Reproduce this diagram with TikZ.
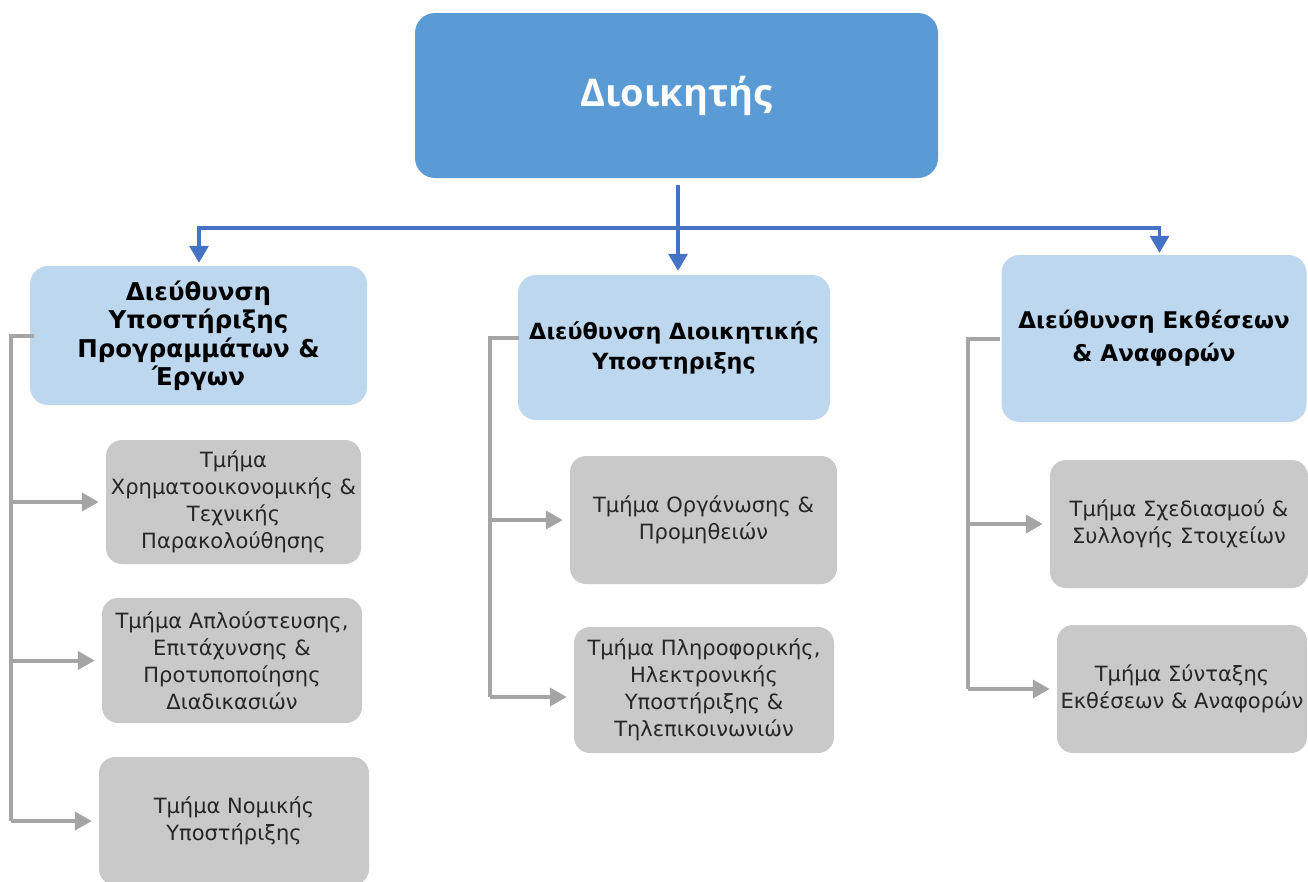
\documentclass[tikz,border=0pt]{standalone}
\usepackage{fontspec}
\setmainfont{DejaVu Sans}
\newfontfamily\titlefont{Open Sans}
\usetikzlibrary{arrows.meta,calc}
\definecolor{topblue}{HTML}{5B9BD5}
\definecolor{lightblue}{HTML}{BDD7EE}
\definecolor{graybox}{HTML}{C9C9C9}
\definecolor{linkblue}{HTML}{4472C4}
\definecolor{linkgray}{HTML}{A5A5A5}
\begin{document}
\begin{tikzpicture}[x=1pt,y=-1pt,
  topbox/.style={rounded corners=20pt, fill=topblue, inner sep=0pt, align=center, text=white,
    font=\titlefont\bfseries\fontsize{38}{42}\selectfont},
  dirbox/.style={rounded corners=18pt, fill=lightblue, inner sep=0pt, align=center,
    font=\bfseries\fontsize{22.3}{30}\selectfont},
  depbox/.style={rounded corners=16pt, fill=graybox, inner sep=0pt, align=center, text=black!85,
    font=\fontsize{21}{27}\selectfont},
  blink/.style={draw=linkblue, line width=3.5pt},
  barrow/.style={blink, -{Triangle[length=17pt,width=19pt]}},
  glink/.style={draw=linkgray, line width=4pt},
  garrow/.style={glink, -{Triangle[length=17pt,width=18pt]}, shorten >=7pt},
]
\useasboundingbox (0,0) rectangle (1308,881);

% top
\node[topbox, minimum width=523pt, minimum height=165pt] (top) at (676.5,95.5) {Διοικητής};

% directorates
\node[dirbox, minimum width=337pt, minimum height=139pt, font=\bfseries\fontsize{24.5}{28.5}\selectfont] (l1) at (198.5,335.5)
  {Διεύθυνση\\Υποστήριξης\\Προγραμμάτων \&\\Έργων};
\node[dirbox, minimum width=312pt, minimum height=145pt] (l2) at (674,347.5)
  {Διεύθυνση Διοικητικής\\Υποστηριξης};
\node[dirbox, minimum width=305pt, minimum height=167pt, font=\bfseries\fontsize{23}{33}\selectfont] (l3) at (1154,338.5)
  {Διεύθυνση Εκθέσεων\\\& Αναφορών};

% departments
\node[depbox, minimum width=255pt, minimum height=124pt] (g1) at (233.5,502)
  {Τμήμα\\Χρηματοοικονομικής \&\\Τεχνικής\\Παρακολούθησης};
\node[depbox, minimum width=260pt, minimum height=125pt] (g2) at (232,660.5)
  {Τμήμα Απλούστευσης,\\Επιτάχυνσης \&\\Προτυποποίησης\\Διαδικασιών};
\node[depbox, minimum width=270pt, minimum height=128pt] (g3) at (234,821)
  {Τμήμα Νομικής\\Υποστήριξης};
\node[depbox, minimum width=267pt, minimum height=128pt] (g4) at (703.5,520)
  {Τμήμα Οργάνωσης \&\\Προμηθειών};
\node[depbox, minimum width=260pt, minimum height=126pt] (g5) at (704,690)
  {Τμήμα Πληροφορικής,\\Ηλεκτρονικής\\Υποστήριξης \&\\Τηλεπικοινωνιών};
\node[depbox, minimum width=258pt, minimum height=128pt] (g6) at (1179,524)
  {Τμήμα Σχεδιασμού \&\\Συλλογής Στοιχείων};
\node[depbox, minimum width=250pt, minimum height=128pt] (g7) at (1182,689)
  {Τμήμα Σύνταξης\\Εκθέσεων \& Αναφορών};

% blue connectors
\coordinate (hub) at (678,228);
\coordinate (topout) at ($(top.south)+(1.5,7)$);
\coordinate (l1in) at ($(l1.north)+(0.5,-3)$);
\coordinate (l2in) at ($(l2.north)+(4,-4)$);
\coordinate (l3in) at ($(l3.north)+(5.5,-2)$);
\draw[blink] (topout) -- (hub);
\draw[barrow] (hub) -- (hub |- l2in);
\draw[barrow] (hub) -| (l1in);
\draw[barrow] (hub) -| (l3in);

% gray connectors
\coordinate (x1) at (11,0);
\coordinate (x2) at (490,0);
\coordinate (x3) at (968,0);
\coordinate (l1o) at ($(l1.west)+(4,0)$);
\coordinate (l2o) at ($(l2.west)+(1,-9.5)$);
\coordinate (l3o) at ($(l3.west)+(-1,0)$);
\coordinate (g5i) at ($(g5.west)+(0,7)$);

\draw[glink] (l1o) -- (x1 |- l1o) -- (x1 |- g3.west);
\draw[garrow] (x1 |- g1.west) -- (g1.west);
\draw[garrow] (x1 |- g2.west) -- (g2.west);
\draw[garrow] (x1 |- g3.west) -- (g3.west);

\draw[glink] (l2o) -- (x2 |- l2o) -- (x2 |- g5i);
\draw[garrow] (x2 |- g4.west) -- (g4.west);
\draw[garrow] (x2 |- g5i) -- (g5i);

\draw[glink] (l3o) -- (x3 |- l3o) -- (x3 |- g7.west);
\draw[garrow] (x3 |- g6.west) -- (g6.west);
\draw[garrow] (x3 |- g7.west) -- (g7.west);
\end{tikzpicture}
\end{document}
